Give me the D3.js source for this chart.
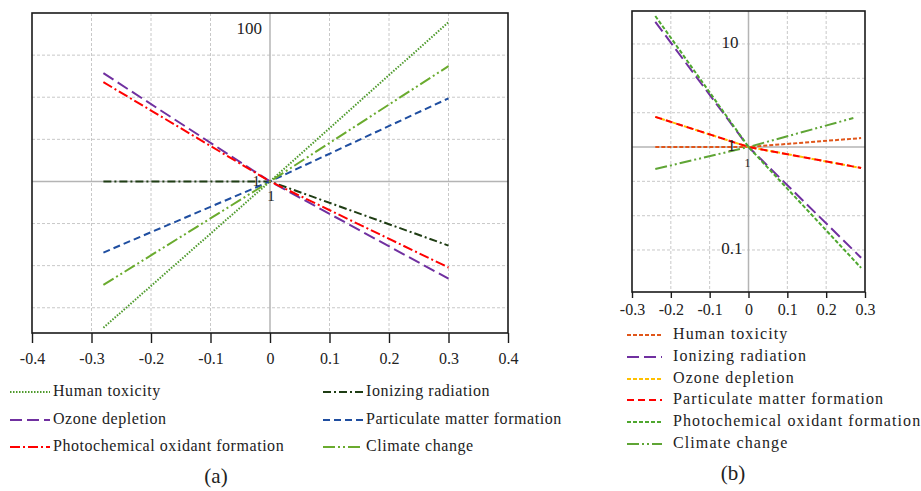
<!DOCTYPE html>
<html>
<head>
<meta charset="utf-8">
<script src="https://d3js.org/d3.v7.min.js"></script>
<style>
  body { margin: 0; background: #fff; }
  svg { display: block; }
</style>
</head>
<body>
<svg id="chart" width="921" height="491"></svg>
<script>
const FONT = '"Liberation Serif"';

// ---- data, panel (a) ----
const xA = [-0.28, 0, 0.3];
const namesA = ["Human toxicity", "Ionizing radiation", "Ozone depletion",
  "Particulate matter formation", "Photochemical oxidant formation", "Climate change"];
const humanA = [0.0183, 1, 78];
const ionizingA = [1, 1, 0.173];
const ozoneA = [19.3, 1, 0.070];
const particulateA = [0.143, 1, 9.7];
const photoA = [15.1, 1, 0.095];
const climateA = [0.059, 1, 23.4];
const xTicksA = [-0.4, -0.3, -0.2, -0.1, 0, 0.1, 0.2, 0.3, 0.4];

// ---- data, panel (b) ----
const xB = [-0.24, 0, 0.29];
const xBclimate = [-0.24, 0, 0.27];
const namesB = ["Human toxicity", "Ionizing radiation", "Ozone depletion",
  "Particulate matter formation", "Photochemical oxidant formation", "Climate change"];
const humanB = [1, 1, 1.22];
const ionizingB = [16.4, 1, 0.084];
const ozoneB = [1.96, 1, 0.625];
const particulateB = [1.96, 1, 0.625];
const photoB = [18.7, 1, 0.067];
const climateB = [0.61, 1, 1.91];
const xTicksB = [-0.3, -0.2, -0.1, 0, 0.1, 0.2, 0.3];

const svg = d3.select("#chart");

// line styles
const stylesA = [
  { color: "#4e9a2c", dash: "1.5,1.5" },
  { color: "#1f3d14", dash: "8,3,2,3" },
  { color: "#7030a0", dash: "12,5" },
  { color: "#1f4ea0", dash: "7,4" },
  { color: "#ff0000", dash: "10,3,2,3" },
  { color: "#6aab2e", dash: "12,3,2,3,2,3" }
];
const stylesB = [
  { color: "#e0561a", dash: "4,2" },
  { color: "#7030a0", dash: "12,5" },
  { color: "#ffc000", dash: "4,2" },
  { color: "#ff0000", dash: "7,4" },
  { color: "#4ea72e", dash: "4,2" },
  { color: "#5fa535", dash: "12,3,2,3,2,3" }
];

function label(sel) {
  return sel.style("font-family", FONT).attr("fill", "#222");
}

function drawPanel(cfg) {
  const g = svg.append("g");
  const x = d3.scaleLinear().domain(cfg.xDomain).range([cfg.left, cfg.right]);
  const y = d3.scaleLog().domain(cfg.yDomain).range([cfg.bottom, cfg.top]);

  // gridlines
  g.selectAll(".vg").data(cfg.xTicks.filter(d => d !== 0 && d !== cfg.xDomain[0] && d !== cfg.xDomain[1]))
    .enter().append("line")
    .attr("x1", d => x(d)).attr("x2", d => x(d))
    .attr("y1", cfg.top).attr("y2", cfg.bottom)
    .attr("stroke", "#c8c8c8").attr("stroke-dasharray", "3,2").attr("stroke-width", 1);
  g.selectAll(".hg").data(cfg.yGrid)
    .enter().append("line")
    .attr("x1", cfg.left).attr("x2", cfg.right)
    .attr("y1", d => y(d)).attr("y2", d => y(d))
    .attr("stroke", "#c8c8c8").attr("stroke-dasharray", "3,2").attr("stroke-width", 1);

  // zero axes
  g.append("line").attr("x1", x(0)).attr("x2", x(0)).attr("y1", cfg.top).attr("y2", cfg.bottom)
    .attr("stroke", "#b4b4b4").attr("stroke-width", 1.5);
  g.append("line").attr("x1", cfg.left).attr("x2", cfg.right).attr("y1", y(1)).attr("y2", y(1))
    .attr("stroke", "#b4b4b4").attr("stroke-width", 1.5);

  // series
  const line = d3.line().x(d => x(d[0])).y(d => y(d[1]));
  cfg.series.forEach((s, i) => {
    g.append("path")
      .datum(s.xs.map((v, j) => [v, s.ys[j]]))
      .attr("d", line)
      .attr("fill", "none")
      .attr("stroke", cfg.styles[i].color)
      .attr("stroke-width", 2)
      .attr("stroke-dasharray", cfg.styles[i].dash);
  });

  // frame
  g.append("rect").attr("x", cfg.left).attr("y", cfg.top)
    .attr("width", cfg.right - cfg.left).attr("height", cfg.bottom - cfg.top)
    .attr("fill", "none").attr("stroke", "#1a1a1a").attr("stroke-width", 1.6);

  // x axis
  const axis = g.append("g").attr("transform", `translate(0,${cfg.bottom})`)
    .call(d3.axisBottom(x).tickValues(cfg.xTicks).tickSize(cfg.tickLen).tickPadding(cfg.tickPad)
      .tickFormat(d => String(d)));
  axis.attr("font-family", "Liberation Serif").attr("font-size", 16);
  axis.select(".domain").remove();
  axis.selectAll(".tick line").attr("stroke", "#1a1a1a").attr("stroke-width", 1.4);
  label(axis.selectAll(".tick text"));

  // y labels
  cfg.yLabels.forEach(l => {
    label(g.append("text").attr("x", x(0) + l.dx).attr("y", y(l.v) + l.dy)
      .attr("text-anchor", l.anchor).attr("dominant-baseline", "middle")
      .attr("font-size", l.size)).text(l.text);
  });

  return { x, y };
}

drawPanel({
  left: 32, right: 508, top: 13, bottom: 333,
  xDomain: [-0.4, 0.4], yDomain: [Math.pow(10, -1.8), 100],
  xTicks: xTicksA, yGrid: [0.0316, 0.1, 0.316, 3.16, 10, 31.6],
  tickLen: 10, tickPad: 10,
  styles: stylesA,
  series: [humanA, ionizingA, ozoneA, particulateA, photoA, climateA].map(ys => ({ xs: xA, ys })),
  yLabels: [
    { v: 100, text: "100", dx: -8, dy: 17, anchor: "end", size: 17 },
    { v: 1, text: "1", dx: -10, dy: 1, anchor: "end", size: 15 },
    { v: 1, text: "1", dx: 1, dy: 16, anchor: "middle", size: 15 }
  ]
});

drawPanel({
  left: 632, right: 865, top: 11, bottom: 292,
  xDomain: [-0.3, 0.3], yDomain: [Math.pow(10, -1.408), Math.pow(10, 1.32)],
  xTicks: xTicksB, yGrid: [0.1, 0.215, 0.464, 2.15, 4.64, 10],
  tickLen: 6, tickPad: 6,
  styles: stylesB,
  series: [
    { xs: xB, ys: humanB }, { xs: xB, ys: ionizingB }, { xs: xB, ys: ozoneB },
    { xs: xB, ys: particulateB }, { xs: xB, ys: photoB }, { xs: xBclimate, ys: climateB }
  ],
  yLabels: [
    { v: 10, text: "10", dx: -10, dy: 0, anchor: "end", size: 17 },
    { v: 0.1, text: "0.1", dx: -6, dy: 0, anchor: "end", size: 17 },
    { v: 1, text: "1", dx: -13, dy: 0, anchor: "end", size: 16 },
    { v: 1, text: "1", dx: -1, dy: 17, anchor: "middle", size: 12 }
  ]
});

// ---- legends ----
function legend(items, styles, positions, sampleW, textGap, spacing) {
  items.forEach((name, i) => {
    const p = positions[i];
    svg.append("line").attr("x1", p[0]).attr("x2", p[0] + sampleW)
      .attr("y1", p[1]).attr("y2", p[1])
      .attr("stroke", styles[i].color).attr("stroke-width", 2)
      .attr("stroke-dasharray", styles[i].dash);
    label(svg.append("text").attr("x", p[0] + sampleW + textGap).attr("y", p[1])
      .attr("dominant-baseline", "middle").attr("font-size", 16)
      .attr("letter-spacing", spacing)).text(name);
  });
}

// (a): rows are Human/Ionizing, Ozone/Particulate, Photochemical/Climate
legend(namesA, stylesA,
  [[10, 392], [323, 392], [10, 420], [323, 420], [10, 447], [323, 447]],
  40, 3, 0.55);
legend(namesB, stylesB,
  [[627, 335], [627, 357], [627, 379], [627, 400], [627, 422], [627, 444]],
  35, 11, 1.1);

label(svg.append("text").attr("x", 216).attr("y", 478).attr("text-anchor", "middle")
  .attr("dominant-baseline", "middle").attr("font-size", 21)).text("(a)");
label(svg.append("text").attr("x", 733).attr("y", 475).attr("text-anchor", "middle")
  .attr("dominant-baseline", "middle").attr("font-size", 21)).text("(b)");
</script>
</body>
</html>
